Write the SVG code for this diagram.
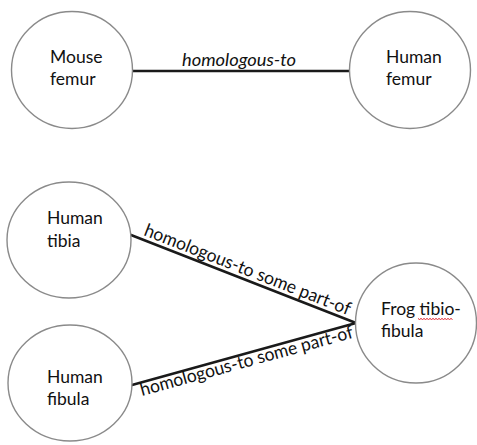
<svg xmlns="http://www.w3.org/2000/svg" width="477" height="445" viewBox="0 0 477 445">
  <style>
    .node { fill: #ffffff; stroke: #8a8a8a; stroke-width: 1.4; }
    .label { font-family: Lato, "Liberation Sans", sans-serif; font-size: 17.5px; fill: #111111; }
    .edge { stroke: #1a1a1a; stroke-width: 2.6; fill: none; stroke-linecap: round; }
    .edge-label { font-family: Lato, "Liberation Sans", sans-serif; font-size: 18px; fill: #111111; }
    .italic { font-style: italic; }
    .spell { stroke: #e0202a; stroke-width: 1; fill: none; }
  </style>
  <rect width="477" height="445" fill="#ffffff"/>

  <!-- connectors -->
  <g id="connectors">
    <line class="edge" x1="133" y1="71" x2="349" y2="71"/>
    <text class="edge-label italic" x="239" y="66" text-anchor="middle" textLength="114" lengthAdjust="spacingAndGlyphs">homologous-to</text>

    <line class="edge" x1="131" y1="235" x2="356" y2="323"/>
    <text class="edge-label" transform="translate(143 235) rotate(21.4)" textLength="220" lengthAdjust="spacingAndGlyphs">homologous-to some part-of</text>

    <line class="edge" x1="132" y1="385" x2="356" y2="323"/>
    <text class="edge-label" transform="translate(142 396) rotate(-15.4)" textLength="220" lengthAdjust="spacingAndGlyphs">homologous-to some part-of</text>
  </g>

  <!-- nodes -->
  <g id="mouse-femur">
    <ellipse class="node" cx="72" cy="70" rx="60.5" ry="58.5"/>
    <text class="label" x="50" y="63">Mouse</text>
    <text class="label" x="50" y="85">femur</text>
  </g>

  <g id="human-femur">
    <ellipse class="node" cx="410" cy="70" rx="60.5" ry="58.5"/>
    <text class="label" x="386" y="63">Human</text>
    <text class="label" x="386" y="85">femur</text>
  </g>

  <g id="human-tibia">
    <ellipse class="node" cx="69" cy="240" rx="62" ry="58"/>
    <text class="label" x="47" y="224">Human</text>
    <text class="label" x="47" y="247">tibia</text>
  </g>

  <g id="human-fibula">
    <ellipse class="node" cx="70" cy="383" rx="62" ry="58"/>
    <text class="label" x="47" y="383">Human</text>
    <text class="label" x="47" y="405">fibula</text>
  </g>

  <g id="frog-tibiofibula">
    <ellipse class="node" cx="416" cy="323" rx="60.5" ry="60"/>
    <text class="label" x="381" y="315">Frog tibio-</text>
    <text class="label" x="381" y="337">fibula</text>
    <!-- wavy underline under "tibio" -->
    <path class="spell" d="M418 318.5 l1.5 1 l1.5 -1 l1.5 1 l1.5 -1 l1.5 1 l1.5 -1 l1.5 1 l1.5 -1 l1.5 1 l1.5 -1 l1.5 1 l1.5 -1 l1.5 1 l1.5 -1 l1.5 1 l1.5 -1 l1.5 1 l1.5 -1 l1.5 1 l1.5 -1 l1.5 1 l1.5 -1 l1.5 1"/>
  </g>
</svg>
